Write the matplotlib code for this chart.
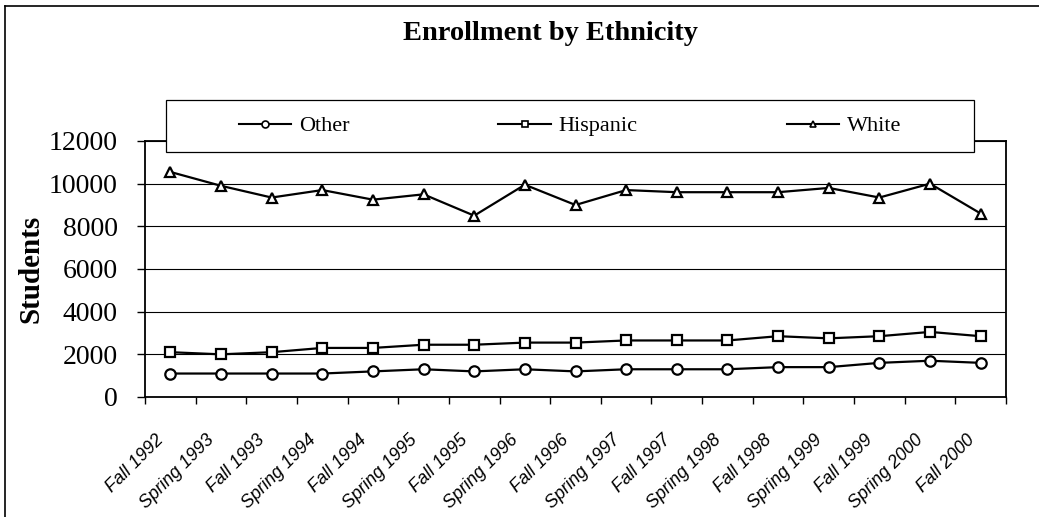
import matplotlib
matplotlib.use("Agg")
import matplotlib.pyplot as plt
from matplotlib.lines import Line2D
from matplotlib.patches import Rectangle
from matplotlib.transforms import ScaledTranslation

# terms and enrollment counts
terms = ["Fall 1992", "Spring 1993", "Fall 1993", "Spring 1994", "Fall 1994",
         "Spring 1995", "Fall 1995", "Spring 1996", "Fall 1996", "Spring 1997",
         "Fall 1997", "Spring 1998", "Fall 1998", "Spring 1999", "Fall 1999",
         "Spring 2000", "Fall 2000"]
other = [1100, 1100, 1100, 1100, 1200, 1300, 1200, 1300, 1200, 1300,
         1300, 1300, 1400, 1400, 1600, 1700, 1600]
hispanic = [2100, 2000, 2100, 2300, 2300, 2450, 2450, 2550, 2550, 2650,
            2650, 2650, 2850, 2750, 2850, 3050, 2850]
white = [10550, 9900, 9350, 9700, 9250, 9500, 8500, 9950, 9000, 9700,
         9600, 9600, 9600, 9800, 9350, 10000, 8600]
y_ticks = [0, 2000, 4000, 6000, 8000, 10000, 12000]

W, H = 1039, 517
serif = "Liberation Serif"

fig = plt.figure(figsize=(W / 100, H / 100), dpi=100)
ax = fig.add_axes([145 / W, 1 - 397 / H, 861 / W, 256 / H])

x = list(range(len(terms)))
series = [("Other", other, "o"), ("Hispanic", hispanic, "s"), ("White", white, "^")]
for name, vals, mk in series:
    ax.plot(x, vals, color="black", lw=1.6, marker=mk, markersize=7.5,
            markerfacecolor="white", markeredgecolor="black", markeredgewidth=1.6,
            zorder=3)

ax.set_xlim(-0.5, len(terms) - 0.5)
ax.set_ylim(0, 12000)
ax.set_yticks(y_ticks)
ax.set_yticklabels([str(v) for v in y_ticks], fontfamily=serif, fontsize=20)
ax.set_xticks([i - 0.5 for i in range(len(terms) + 1)])
ax.set_xticklabels([])
ax.tick_params(axis="y", direction="out", length=6, width=1, pad=13.5)
ax.tick_params(axis="x", direction="out", length=5, width=1)
ax.grid(axis="y", color="black", lw=0.8)
ax.set_axisbelow(True)
for s in ax.spines.values():
    s.set_linewidth(1.3)

# rotated category labels
off = ScaledTranslation(-0.09, -0.40, fig.dpi_scale_trans)
for i, t in enumerate(terms):
    ax.text(i, 0, t, transform=ax.get_xaxis_transform() + off, rotation=45,
            ha="right", va="center", rotation_mode="anchor",
            fontfamily="Liberation Sans", fontstyle="italic", fontsize=13)

ax.set_ylabel("Students", fontfamily=serif, fontweight="bold", fontsize=21)
ax.yaxis.set_label_coords(-0.117, 0.5)

fig.text(550 / W, 1 - 33 / H, "Enrollment by Ethnicity", ha="center", va="center",
         fontfamily=serif, fontweight="bold", fontsize=20.5)

# legend box sitting over the top of the plot
fig.add_artist(Rectangle((166 / W, 1 - 152 / H), 808 / W, 52 / H,
                         transform=fig.transFigure, facecolor="white",
                         edgecolor="black", lw=0.9, zorder=4))
handles = [Line2D([], [], color="black", lw=1.5, marker=mk, markersize=5,
                  markerfacecolor="white", markeredgecolor="black",
                  markeredgewidth=1.2, label=name)
           for name, vals, mk in series]
leg = fig.legend(handles=handles, loc="center", ncol=3, frameon=False,
                 bbox_to_anchor=(570 / W, 1 - 126 / H),
                 prop={"family": serif, "size": 16},
                 handlelength=2.36, handletextpad=0.36, columnspacing=6.7)
leg.set_zorder(5)

# chart border (clipped on right and bottom like the original)
fig.add_artist(Line2D([5 / W, 1], [1 - 6 / H, 1 - 6 / H], color="black", lw=1.2,
                      transform=fig.transFigure))
fig.add_artist(Line2D([5 / W, 5 / W], [0, 1 - 6 / H], color="black", lw=1.2,
                      transform=fig.transFigure))

fig.savefig("out.png", dpi=100)
